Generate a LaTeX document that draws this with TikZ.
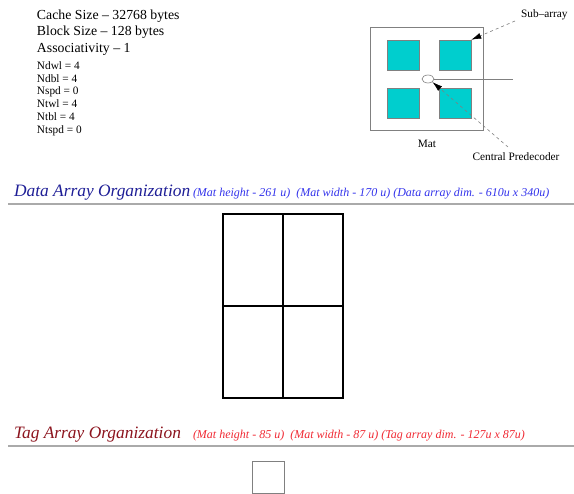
\documentclass[tikz,border=0pt]{standalone}
\usepackage{fontspec}
\setmainfont{Liberation Serif}
\usetikzlibrary{arrows.meta,shapes.geometric}
\definecolor{subcyan}{RGB}{0,206,206}
\definecolor{hdblue}{RGB}{30,30,150}
\definecolor{smblue}{RGB}{50,50,235}
\definecolor{hdred}{RGB}{140,20,30}
\definecolor{smred}{RGB}{240,40,50}
\definecolor{rulegray}{RGB}{170,170,170}
\begin{document}
\begin{tikzpicture}[x=1pt,y=-1pt,
  txt/.style={anchor=base west,inner sep=0pt,outer sep=0pt},
  bigtxt/.style={txt,font=\fontsize{13.8}{15}\selectfont},
  smalltxt/.style={txt,font=\fontsize{11.3}{12}\selectfont},
  lbl/.style={font=\fontsize{11.3}{12}\selectfont,inner sep=0pt},
  subarr/.style={draw=gray,fill=subcyan,line width=0.5pt,minimum width=32pt,minimum height=30pt,inner sep=0pt},
  cell/.style={draw=black,line width=1.5pt,minimum width=60pt,minimum height=92pt,inner sep=0pt},
  dasharrow/.style={draw=gray,dashed,line width=0.6pt,-{Latex[length=10pt,width=6pt,black]}},
  hdrule/.style={draw=rulegray,line width=1.5pt},
  hdbig/.style={txt,font=\fontsize{17.4}{20}\selectfont\itshape},
  hdsmall/.style={txt,font=\fontsize{12}{13}\selectfont\itshape}]
\useasboundingbox (0,0) rectangle (574,494);

% parameters
\node[bigtxt] (cs) at (37,20) {Cache Size -- 32768 bytes};
\node[bigtxt] (bs) at (37,36) {Block Size -- 128 bytes};
\node[bigtxt] (as) at (37,53) {Associativity -- 1};
\node[smalltxt] (p1) at (37,70) {Ndwl = 4};
\node[smalltxt] (p2) at (37,83) {Ndbl = 4};
\node[smalltxt] (p3) at (37,95) {Nspd = 0};
\node[smalltxt] (p4) at (37,108) {Ntwl = 4};
\node[smalltxt] (p5) at (37,121) {Ntbl = 4};
\node[smalltxt] (p6) at (37,134) {Ntspd = 0};

% mat
\node[draw=gray,line width=0.6pt,minimum width=113pt,minimum height=103pt,inner sep=0pt] (mat) at (426.5,79) {};
\node[subarr] (sa1) at (403,55) {};
\node[subarr] (sa2) at (455,55) {};
\node[subarr] (sa3) at (403,103) {};
\node[subarr] (sa4) at (455,103) {};
\node[draw=gray,line width=0.6pt,ellipse,minimum width=12pt,minimum height=8pt,inner sep=0pt] (pre) at (428,79) {};
\coordinate (wire) at (513,79);
\draw[gray,line width=0.6pt] (pre.east) -- (wire);
\node[lbl] (matlbl) at (427,144) {Mat};
\node[lbl,anchor=base] (cplbl) at (516,161) {Central Predecoder};
\node[lbl,anchor=base west] (salbl) at (521,18) {Sub--array};
\coordinate (sastart) at (515,21);
\coordinate (cpstart) at (508,147);
\draw[dasharrow] (sastart) -- (sa2.north east);
\draw[dasharrow] (cpstart) -- (pre.south east);

% data array
\node[hdbig,text=hdblue] (dh) at (14,197) {Data Array Organization};
\node[hdsmall,text=smblue] (ds) at (193,197) {(Mat height - 261 u)\ \ (Mat width - 170 u) (Data array dim. - 610u x 340u)};
\coordinate (dl1) at (8,204);
\coordinate (dl2) at (574,204);
\draw[hdrule] (dl1) -- (dl2);
\node[cell] (c1) at (253,260) {};
\node[cell] (c2) at (313,260) {};
\node[cell] (c3) at (253,352) {};
\node[cell] (c4) at (313,352) {};

% tag array
\node[hdbig,text=hdred] (th) at (14,439) {Tag Array Organization};
\node[hdsmall,text=smred] (ts) at (193,439) {(Mat height - 85 u)\ \ (Mat width - 87 u) (Tag array dim. - 127u x 87u)};
\coordinate (tl1) at (8,446);
\coordinate (tl2) at (574,446);
\draw[hdrule] (tl1) -- (tl2);
\node[draw=gray,line width=0.8pt,minimum width=32pt,minimum height=32pt,inner sep=0pt] (tag) at (268,477) {};
\end{tikzpicture}
\end{document}
